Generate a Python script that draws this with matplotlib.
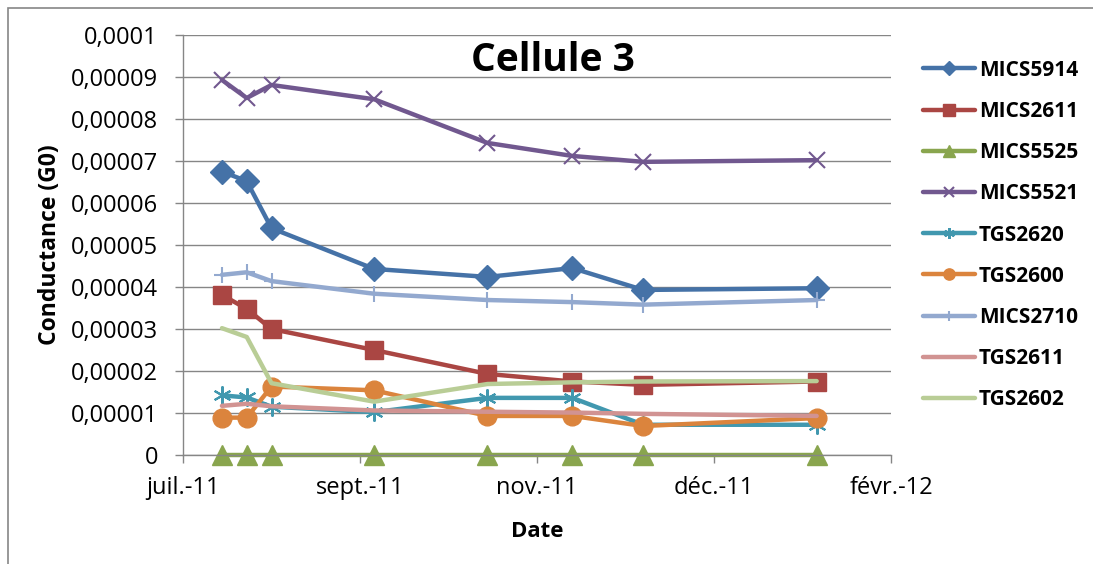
import matplotlib
matplotlib.use("Agg")
import matplotlib.pyplot as plt
import matplotlib.dates as mdates
from matplotlib.patches import Rectangle
import numpy as np

plt.rcParams['font.family'] = ['Open Sans', 'DejaVu Sans']

# dates des mesures
dates = np.array(['2011-08-06', '2011-08-13', '2011-08-20', '2011-09-18',
                  '2011-10-20', '2011-11-13', '2011-12-03', '2012-01-21'], dtype='datetime64[D]')

mics5914 = [6.75e-5, 6.52e-5, 5.40e-5, 4.43e-5, 4.24e-5, 4.45e-5, 3.93e-5, 3.97e-5]
mics2611 = [3.81e-5, 3.48e-5, 3.00e-5, 2.50e-5, 1.93e-5, 1.75e-5, 1.67e-5, 1.75e-5]
mics5525 = [0, 0, 0, 0, 0, 0, 0, 0]
mics5521 = [8.93e-5, 8.50e-5, 8.81e-5, 8.47e-5, 7.43e-5, 7.12e-5, 6.98e-5, 7.02e-5]
tgs2620 = [1.42e-5, 1.37e-5, 1.15e-5, 1.02e-5, 1.36e-5, 1.36e-5, 0.72e-5, 0.72e-5]
tgs2600 = [0.89e-5, 0.89e-5, 1.63e-5, 1.54e-5, 0.93e-5, 0.93e-5, 0.69e-5, 0.88e-5]
mics2710 = [4.29e-5, 4.35e-5, 4.14e-5, 3.84e-5, 3.69e-5, 3.64e-5, 3.58e-5, 3.69e-5]
tgs2611 = [1.17e-5, 1.22e-5, 1.16e-5, 1.06e-5, 1.03e-5, 1.01e-5, 0.98e-5, 0.93e-5]
tgs2602 = [3.02e-5, 2.81e-5, 1.71e-5, 1.27e-5, 1.69e-5, 1.73e-5, 1.75e-5, 1.76e-5]

tick_dates = np.array(['2011-07-26', '2011-09-14', '2011-11-03', '2011-12-23', '2012-02-11'], dtype='datetime64[D]')
tick_labels = ['juil.-11', 'sept.-11', 'nov.-11', 'déc.-11', 'févr.-12']

series = [
    ('MICS5914', mics5914, '#4572A7', 'D', 12),
    ('MICS2611', mics2611, '#AA4643', 's', 13.5),
    ('MICS5525', mics5525, '#89A54E', '^', 14),
    ('MICS5521', mics5521, '#71588F', 'x', 12),
    ('TGS2620', tgs2620, '#4198AF', (6, 2, 0), 13),
    ('TGS2600', tgs2600, '#DB843D', 'o', 13.5),
    ('MICS2710', mics2710, '#93A9CF', '+', 12),
    ('TGS2611', tgs2611, '#D19392', None, 0),
    ('TGS2602', tgs2602, '#B9CD96', None, 0),
]

fig = plt.figure(figsize=(10.93, 5.64), dpi=100)
ax = fig.add_axes([183/1093, 1-455/564, (891-183)/1093, (455-35)/564])

x = mdates.date2num(dates.astype('datetime64[s]').astype(object))
for name, vals, col, mk, ms in series:
    mew = 1.5 if mk in ('x', '+', (6, 2, 0)) else 1
    ax.plot(x, vals, color=col, lw=3.2, marker=mk, markersize=ms,
            markeredgewidth=mew, markeredgecolor=col, markerfacecolor=col,
            label=name, solid_joinstyle='round', solid_capstyle='round', clip_on=False)

xt = mdates.date2num(tick_dates.astype('datetime64[s]').astype(object))
ax.set_xlim(xt[0], xt[-1])
ax.set_xticks(xt)
ax.set_xticklabels(tick_labels)

ax.set_ylim(0, 0.0001)
yt = np.arange(0, 11) * 1e-5
ax.set_yticks(yt)
ax.set_yticklabels(['0'] + [('%.5f' % v).rstrip('0').replace('.', ',') for v in yt[1:]])

ax.grid(axis='y', color='#868686', lw=1)
ax.set_axisbelow(True)
for s in ['top', 'right']:
    ax.spines[s].set_visible(False)
for s in ['left', 'bottom']:
    ax.spines[s].set_color('#868686')
    ax.spines[s].set_linewidth(1)
ax.tick_params(colors='#868686', labelcolor='black', labelsize=17, length=6, width=1)
ax.tick_params(axis='y', pad=12)
ax.tick_params(axis='x', pad=9)

ax.set_ylabel('Conductance (G0)', fontsize=16.5, fontweight='bold', labelpad=6)
ax.set_xlabel('Date', fontsize=16, fontweight='bold', labelpad=15)
ax.text(0.523, 0.94, 'Cellule 3', transform=ax.transAxes, ha='center', va='center',
        fontsize=28, fontweight='bold')

leg = fig.legend(loc='upper left', bbox_to_anchor=(904/1093, 1-41/564), frameon=False,
                 prop={'weight': 'bold', 'size': 15}, labelspacing=0.97,
                 handlelength=2.5, handletextpad=0.2, markerscale=0.6)

fig.patches.append(Rectangle((8/1093, -0.1), 1.2, 1.1 - 8/564, transform=fig.transFigure,
                             fill=False, edgecolor='#868686', lw=1.2))

fig.savefig('out.png', dpi=100)
